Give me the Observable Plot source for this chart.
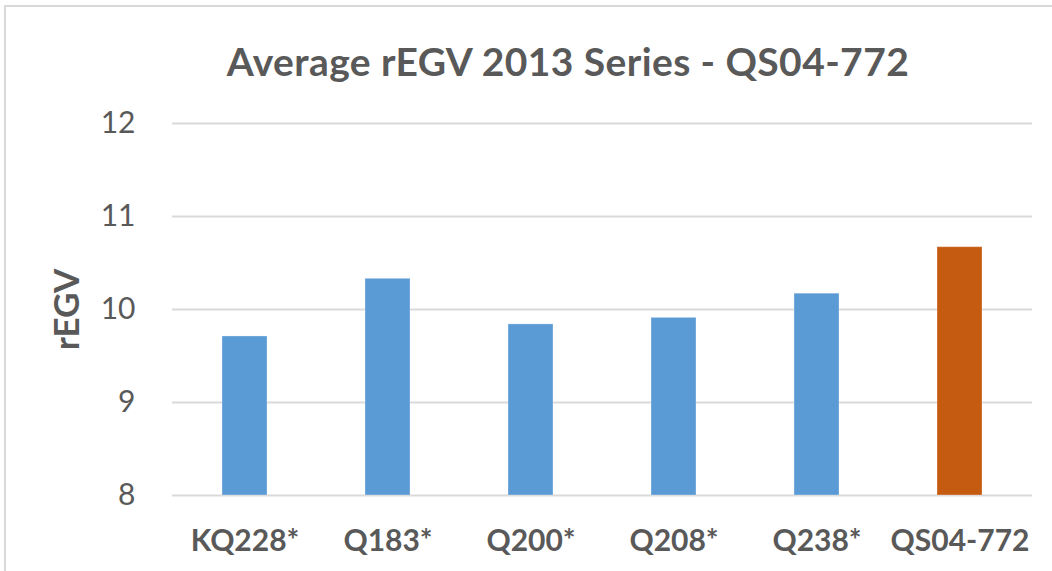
<!DOCTYPE html>
<html>
<head>
<meta charset="utf-8">
<script src="https://cdn.jsdelivr.net/npm/d3@7"></script>
<script src="https://cdn.jsdelivr.net/npm/@observablehq/plot@0.6"></script>
<style>
  html, body { margin: 0; padding: 0; background: #fff; }
  #wrap { position: relative; width: 1052px; height: 571px; overflow: hidden; font-family: Lato, "Open Sans", sans-serif; }
  #frame { position: absolute; left: 4px; top: 5px; width: 1060px; height: 580px; border: 2px solid #d9d9d9; box-sizing: border-box; }
  #title { position: absolute; left: 0; top: 38px; width: 1136px; text-align: center; font-size: 39px; line-height: 46px; font-weight: bold; color: #595959; letter-spacing: 0.4px; white-space: nowrap; }
  #plot { position: absolute; left: 0; top: 100px; }
</style>
</head>
<body>
<div id="wrap">
  <div id="frame"></div>
  <div id="title">Average rEGV 2013 Series - QS04-772</div>
  <div id="plot"></div>
</div>
<script>
const categories = ["KQ228*", "Q183*", "Q200*", "Q208*", "Q238*", "QS04-772"];
const values = [9.71, 10.33, 9.84, 9.91, 10.17, 10.67];
const colors = ["#5B9BD5", "#5B9BD5", "#5B9BD5", "#5B9BD5", "#5B9BD5", "#C55A11"];
const yTicks = [8, 9, 10, 11, 12];
const yLabel = "rEGV";

const data = categories.map((c, i) => ({category: c, value: values[i], color: colors[i]}));

const chart = Plot.plot({
  width: 1052,
  height: 471,
  marginTop: 23,
  marginBottom: 76,
  marginLeft: 172,
  marginRight: 20,
  style: {fontFamily: "Lato, 'Open Sans', sans-serif", color: "#595959", background: "transparent", overflow: "visible"},
  x: {domain: categories, paddingInner: 0.686, paddingOuter: 0.343, label: null},
  y: {domain: [yTicks[0], yTicks[yTicks.length - 1]], ticks: yTicks, label: null},
  marks: [
    Plot.gridY(yTicks, {stroke: "#d9d9d9", strokeOpacity: 1, strokeWidth: 2}),
    Plot.barY(data, {x: "category", y1: () => yTicks[0], y2: "value", fill: "color", stroke: "#ffffff", strokeOpacity: 0.3, strokeWidth: 1}),
    Plot.axisY(yTicks, {tickSize: 0, tickPadding: 37, fontSize: 30, fill: "#595959", label: null, tickFormat: d3.format("d")}),
    Plot.axisX({tickSize: 0, tickPadding: 34, fontSize: 30, fontWeight: "bold", fill: "#595959", label: null}),
    Plot.text([yLabel], {frameAnchor: "left", dx: -105, rotate: -90, textAnchor: "middle", fontSize: 35, fontWeight: "bold", fill: "#595959", text: d => d})
  ]
});
document.getElementById("plot").appendChild(chart);
</script>
</body>
</html>
